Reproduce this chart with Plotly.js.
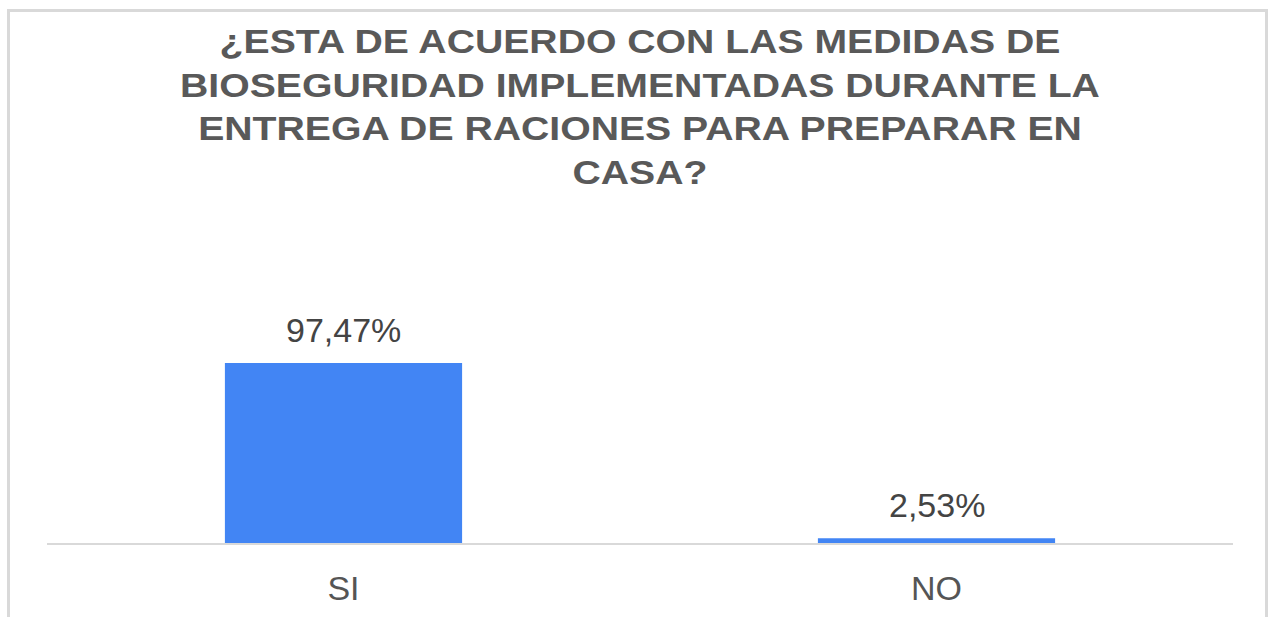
<!DOCTYPE html>
<html>
<head>
<meta charset="utf-8">
<script src="https://cdn.plot.ly/plotly-3.0.1.min.js"></script>
<style>
  html, body { margin: 0; padding: 0; background: #ffffff; }
  #wrap { position: relative; width: 1274px; height: 617px; overflow: hidden; }
  #chart { position: absolute; left: 0; top: 0; width: 1274px; height: 617px; }
  #frame { position: absolute; left: 7px; top: 9px; width: 1261px; height: 640px;
           border: 3px solid #d9d9d9; box-sizing: border-box; pointer-events: none; }
</style>
</head>
<body>
<div id="wrap">
  <div id="chart"></div>
  <div id="frame"></div>
</div>
<script>
const categories = ["SI", "NO"];
const values = [97.47, 2.53];
const valueLabels = ["97,47%", "2,53%"];
const titleText = "¿ESTA DE ACUERDO CON LAS MEDIDAS DE<br>BIOSEGURIDAD IMPLEMENTADAS DURANTE LA<br>ENTREGA DE RACIONES PARA PREPARAR EN<br>CASA?";

const FONT = "Liberation Sans, Arial, Helvetica, sans-serif";

const trace = {
  type: "bar",
  x: categories,
  y: values,
  marker: { color: "#4285F4" },
  hoverinfo: "skip"
};

const annotations = categories.map((c, i) => ({
  x: c, y: values[i], xref: "x", yref: "y",
  text: valueLabels[i], showarrow: false,
  yanchor: "bottom", yshift: 12,
  font: { family: FONT, size: 34, color: "#444444" }
}));

const layout = {
  width: 1274, height: 617,
  margin: { l: 47, r: 41, t: 230, b: 74, pad: 0 },
  paper_bgcolor: "#ffffff", plot_bgcolor: "#ffffff",
  showlegend: false,
  bargap: 0.6,
  title: {
    text: titleText,
    x: 640 / 1274, xanchor: "center",
    y: 1 - 53 / 617, yanchor: "top",
    font: { family: FONT, size: 33.5, color: "#595959", weight: "bold" }
  },
  xaxis: {
    type: "category",
    showgrid: false, zeroline: false,
    showline: true, linecolor: "#d9d9d9", linewidth: 2,
    ticks: "", ticklabelstandoff: 14,
    tickfont: { family: FONT, size: 34, color: "#555555" }
  },
  yaxis: {
    range: [0, 169.5],
    showgrid: false, zeroline: false, showline: false,
    showticklabels: false, ticks: ""
  },
  annotations: annotations
};

Plotly.newPlot("chart", [trace], layout, { displayModeBar: false, staticPlot: true }).then(function (gd) {
  // the reference title is rendered horizontally stretched; widen it around its centre
  const g = gd.querySelector(".g-gtitle");
  if (g) {
    const cx = 640;
    g.setAttribute("transform", "translate(" + cx + ",0) scale(1.17,1) translate(" + (-cx) + ",0)");
  }
});
</script>
</body>
</html>
